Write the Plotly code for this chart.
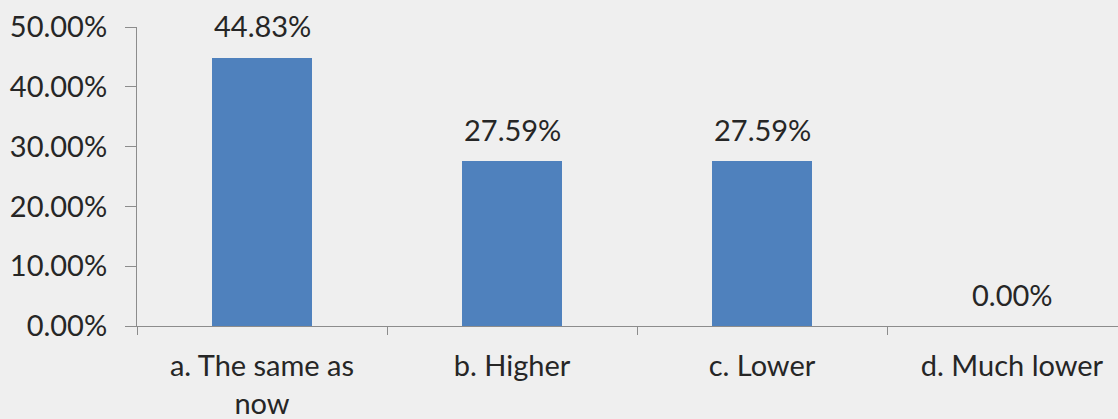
import plotly.graph_objects as go

categories = ["a. The same as<br>now", "b. Higher", "c. Lower", "d. Much lower"]
values = [44.83, 27.59, 27.59, 0.00]
y_ticks = [0, 10, 20, 30, 40, 50]

FONT = "Lato"
FS = 29
TXT = "#262626"
AX = "#8c8c8c"

fig = go.Figure()
fig.add_trace(go.Bar(
    x=categories, y=values, width=0.4,
    marker=dict(color="#4f81bd", line=dict(width=0)),
    showlegend=False, hoverinfo="skip",
))
for c, v in zip(categories, values):
    fig.add_annotation(x=c, y=v, text=f"{v:.2f}%", showarrow=False,
                       yanchor="middle", yshift=32,
                       font=dict(family=FONT, size=FS, color=TXT))

fig.update_layout(
    width=1118, height=419,
    margin=dict(l=137, r=0, t=27, b=93),
    paper_bgcolor="#efefef", plot_bgcolor="#efefef",
    font=dict(family=FONT, size=FS, color=TXT),
    xaxis=dict(
        type="category", range=[-0.5, 3.424], tickson="boundaries",
        ticks="outside", ticklen=8, tickcolor=AX, tickwidth=1,
        showline=True, linecolor=AX, linewidth=1,
        showgrid=False, ticklabelstandoff=14,
        tickfont=dict(family=FONT, size=FS, color=TXT),
    ),
    yaxis=dict(
        range=[0, 50], tickvals=y_ticks,
        ticktext=[f"{t:.2f}%" for t in y_ticks],
        ticks="outside", ticklen=11, tickcolor=AX, tickwidth=1,
        showline=True, linecolor=AX, linewidth=1,
        showgrid=False, zeroline=False, ticklabelstandoff=12,
        tickfont=dict(family=FONT, size=FS, color=TXT),
    ),
)
fig.write_html("out.html", config={"displayModeBar": False},
               post_script="document.body.style.margin='0';")
